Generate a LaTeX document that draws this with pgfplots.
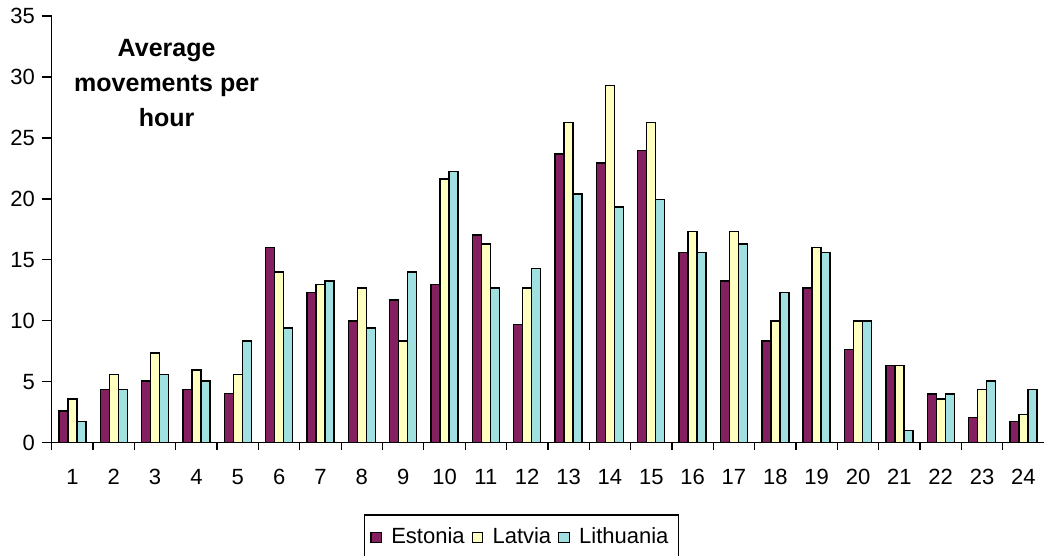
\documentclass[border=0pt]{standalone}
\usepackage{pgfplots}
\pgfplotsset{compat=1.18}
\usepackage{pgfplotstable}
\usepackage{fontspec}
\setmainfont{Liberation Sans}

\definecolor{estonia}{RGB}{132,32,96}
\definecolor{latvia}{RGB}{255,255,192}
\definecolor{lithuania}{RGB}{160,224,224}

% hour, Estonia, Latvia, Lithuania
\pgfplotstableread{
h  est   lat   lit
1  2.6   3.6   1.75
2  4.35  5.6   4.35
3  5.05  7.35  5.6
4  4.35  5.95  5.05
5  4.05  5.6   8.35
6  16.0  14.0  9.4
7  12.3  13.0  13.25
8  10.0  12.7  9.4
9  11.7  8.35  14.0
10 13.0  21.65 22.25
11 17.05 16.3  12.7
12 9.7   12.7  14.3
13 23.7  26.25 20.4
14 22.95 29.3  19.35
15 23.95 26.25 19.95
16 15.6  17.35 15.6
17 13.25 17.35 16.3
18 8.35  10.0  12.3
19 12.7  16.0  15.6
20 7.65  10.0  10.0
21 6.35  6.35  1.0
22 4.0   3.6   4.0
23 2.05  4.35  5.05
24 1.75  2.3   4.35
}\movements

\begin{document}
\fontsize{11}{13}\selectfont
\begin{tikzpicture}
    \path[use as bounding box] (0,0) rectangle (522.5pt,278pt);
    \begin{axis}[
            at={(25.85pt,56.65pt)}, anchor=south west,
            scale only axis,
            width=496.2pt, height=213.3pt,
            axis x line=bottom, axis y line=left,
            axis line style={-, line width=0.6pt},
            ymin=0, ymax=35, ytick={0,5,...,35},
            xmin=0.5, xmax=24.5, xtick={1,...,24},
            minor xtick={0.5,1.5,...,23.5},
            tick align=outside,
            major x tick style={draw=none},
            minor x tick style={line width=0.6pt, black},
            minor tick length=3.5pt,
            major y tick style={line width=0.6pt, black},
            major tick length=5pt,
            /pgf/number format/assume math mode=true,
            tick label style={font=\fontsize{11}{13}\selectfont},
            xticklabel style={yshift=-4.5pt},
            yticklabel style={xshift=0.5pt},
            ybar, bar width=4.5pt,
            every axis plot/.append style={draw=black, line width=0.7pt},
            legend columns=3,
            legend style={
                    at={(0.4733,-0.2225)}, anchor=center,
                    draw=black, line width=0.6pt,
                    font=\fontsize{11}{13}\selectfont,
                    inner xsep=3pt, inner ysep=4.5pt,
                    /tikz/every even column/.append style={column sep=1.5pt}},
            legend image code/.code={%
                    \draw[#1, line width=0.6pt] (0pt,-2.6pt) rectangle (5.3pt,2.7pt);
                    \path (7.8pt,0pt);},
        ]
        \addplot[fill=estonia, bar shift=-4.5pt] table[x=h, y=est] {\movements};
        \addlegendentry{Estonia}
        \addplot[fill=latvia, bar shift=0pt] table[x=h, y=lat] {\movements};
        \addlegendentry{Latvia}
        \addplot[fill=lithuania, bar shift=4.5pt] table[x=h, y=lit] {\movements};
        \addlegendentry{Lithuania}
    \end{axis}
    \node[align=center, font=\bfseries\fontsize{12.5}{17.5}\selectfont]
        at (83.3pt,236.5pt) {Average\\movements per\\hour};
\end{tikzpicture}
\end{document}
